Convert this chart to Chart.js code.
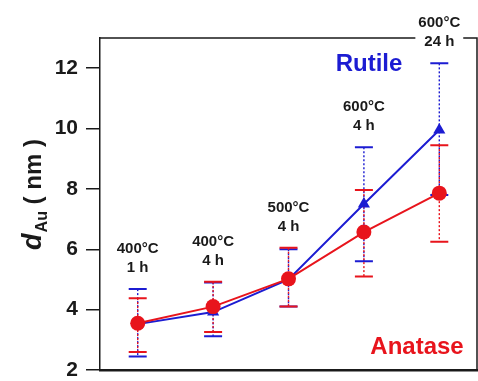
<!DOCTYPE html>
<html>
<head>
<meta charset="utf-8">
<script src="https://cdn.jsdelivr.net/npm/chart.js@4/dist/chart.umd.min.js"></script>
<style>
  html, body { margin: 0; padding: 0; background: #fff; }
  #wrap { width: 478px; height: 381px; }
</style>
</head>
<body>
<div id="wrap"><canvas id="c" width="478" height="381"></canvas></div>
<script>
// annealing steps (x = 1..5)
const steps = [1, 2, 3, 4, 5];
const stepLabels = [
  ["400\u00B0C", "1 h"],
  ["400\u00B0C", "4 h"],
  ["500\u00B0C", "4 h"],
  ["600\u00B0C", "4 h"],
  ["600\u00B0C", "24 h"]
];

// Au particle size (nm) with error range
const rutileMean = [3.52, 3.92, 5.0, 7.5, 9.95];
const rutileHigh = [4.68, 4.9, 6.0, 9.38, 12.16];
const rutileLow = [2.45, 3.12, 4.1, 5.6, 7.8];

const anataseMean = [3.55, 4.1, 5.02, 6.57, 7.86];
const anataseHigh = [4.38, 4.92, 6.05, 7.96, 9.45];
const anataseLow = [2.6, 3.26, 4.1, 5.1, 6.25];

const yTicks = [2, 4, 6, 8, 10, 12];

const BLUE = "#1c1cd2";
const RED = "#e8141c";
const INK = "#1a1a1a";
const FONT = "'Liberation Sans', Arial, sans-serif";

const pts = (ys) => steps.map((x, i) => ({ x, y: ys[i] }));

const errorBars = {
  id: "errorBars",
  beforeDatasetsDraw(chart) {
    const { ctx, scales: { x, y } } = chart;
    const sets = [
      { hi: rutileHigh, lo: rutileLow, color: BLUE },
      { hi: anataseHigh, lo: anataseLow, color: RED }
    ];
    ctx.save();
    sets.forEach(s => {
      steps.forEach((v, i) => {
        const px = x.getPixelForValue(v);
        const top = y.getPixelForValue(s.hi[i]);
        const bot = y.getPixelForValue(s.lo[i]);
        ctx.strokeStyle = s.color;
        ctx.lineWidth = 1.4;
        ctx.setLineDash([2, 2]);
        ctx.beginPath();
        ctx.moveTo(px, top);
        ctx.lineTo(px, bot);
        ctx.stroke();
        ctx.setLineDash([]);
        ctx.lineWidth = 2;
        ctx.beginPath();
        ctx.moveTo(px - 9, top); ctx.lineTo(px + 9, top);
        ctx.moveTo(px - 9, bot); ctx.lineTo(px + 9, bot);
        ctx.stroke();
      });
    });
    ctx.restore();
  }
};

const decorations = {
  id: "decorations",
  afterDraw(chart) {
    const { ctx, chartArea: a, scales: { x, y } } = chart;
    ctx.save();

    // top and right frame lines
    ctx.strokeStyle = INK;
    ctx.lineWidth = 1.5;
    ctx.beginPath();
    ctx.moveTo(a.left, a.top);
    ctx.lineTo(a.right, a.top);
    ctx.lineTo(a.right, a.bottom);
    ctx.stroke();

    // condition labels above each step
    ctx.font = "bold 15px " + FONT;
    ctx.textAlign = "center";
    ctx.textBaseline = "middle";
    steps.forEach((v, i) => {
      const px = x.getPixelForValue(v);
      const cap = y.getPixelForValue(Math.max(rutileHigh[i], anataseHigh[i]));
      const l2 = cap - 21;
      const l1 = l2 - 19;
      const w = Math.max(...stepLabels[i].map(t => ctx.measureText(t).width));
      ctx.fillStyle = "#fff";
      ctx.fillRect(px - w / 2 - 3, l1 - 9, w + 6, l2 - l1 + 18);
      ctx.fillStyle = INK;
      ctx.fillText(stepLabels[i][0], px, l1);
      ctx.fillText(stepLabels[i][1], px, l2);
    });

    // series names
    ctx.font = "bold 24px " + FONT;
    ctx.fillStyle = BLUE;
    ctx.fillText("Rutile", 369, 64);
    ctx.fillStyle = RED;
    ctx.fillText("Anatase", 417, 347);

    // y-axis title: d_Au ( nm )
    ctx.translate(33, 195);
    ctx.rotate(-Math.PI / 2);
    ctx.textAlign = "left";
    ctx.textBaseline = "alphabetic";
    const f1 = "italic bold 27px " + FONT;
    const f2 = "bold 16px " + FONT;
    const f3 = "bold 24px " + FONT;
    ctx.font = f1; const w1 = ctx.measureText("d").width;
    ctx.font = f2; const w2 = ctx.measureText("Au").width;
    ctx.font = f3; const w3 = ctx.measureText(" ( nm )").width;
    let cx = -(w1 + w2 + w3) / 2;
    ctx.fillStyle = INK;
    ctx.font = f1; ctx.fillText("d", cx, 8); cx += w1 + 1;
    ctx.font = f2; ctx.fillText("Au", cx, 14); cx += w2;
    ctx.font = f3; ctx.fillText(" ( nm )", cx, 8);

    ctx.restore();
  }
};

new Chart(document.getElementById("c"), {
  type: "line",
  data: {
    datasets: [
      {
        label: "Anatase",
        data: pts(anataseMean),
        borderColor: RED,
        backgroundColor: RED,
        borderWidth: 2,
        pointStyle: "circle",
        pointRadius: 7.5,
        pointBorderWidth: 0,
        order: 0
      },
      {
        label: "Rutile",
        data: pts(rutileMean),
        borderColor: BLUE,
        backgroundColor: BLUE,
        borderWidth: 2,
        pointStyle: "triangle",
        pointRadius: 7,
        pointBorderWidth: 0,
        order: 1
      }
    ]
  },
  options: {
    responsive: false,
    animation: false,
    layout: { autoPadding: false, padding: { top: 38, right: 1, left: 0, bottom: 0 } },
    plugins: { legend: { display: false }, tooltip: { enabled: false } },
    scales: {
      x: {
        type: "linear",
        min: 0.5,
        max: 5.5,
        ticks: { display: false },
        grid: { display: false, drawTicks: false },
        border: { color: INK, width: 2.5 },
        afterFit: (s) => {
          s.height = 11;
          s.paddingLeft = 0;
          s.paddingRight = 0;
        }
      },
      y: {
        min: 2,
        max: 13,
        afterBuildTicks: (s) => { s.ticks = yTicks.map(v => ({ value: v })); },
        ticks: {
          color: INK,
          padding: 8,
          font: { family: FONT, size: 21, weight: "bold" }
        },
        grid: { drawOnChartArea: false, drawTicks: true, tickLength: 14, color: INK, lineWidth: 1.5 },
        border: { color: INK, width: 1.5 },
        afterFit: (s) => {
          s.width = 100;
          s.paddingTop = 0;
          s.paddingBottom = 0;
        }
      }
    }
  },
  plugins: [errorBars, decorations]
});
</script>
</body>
</html>
